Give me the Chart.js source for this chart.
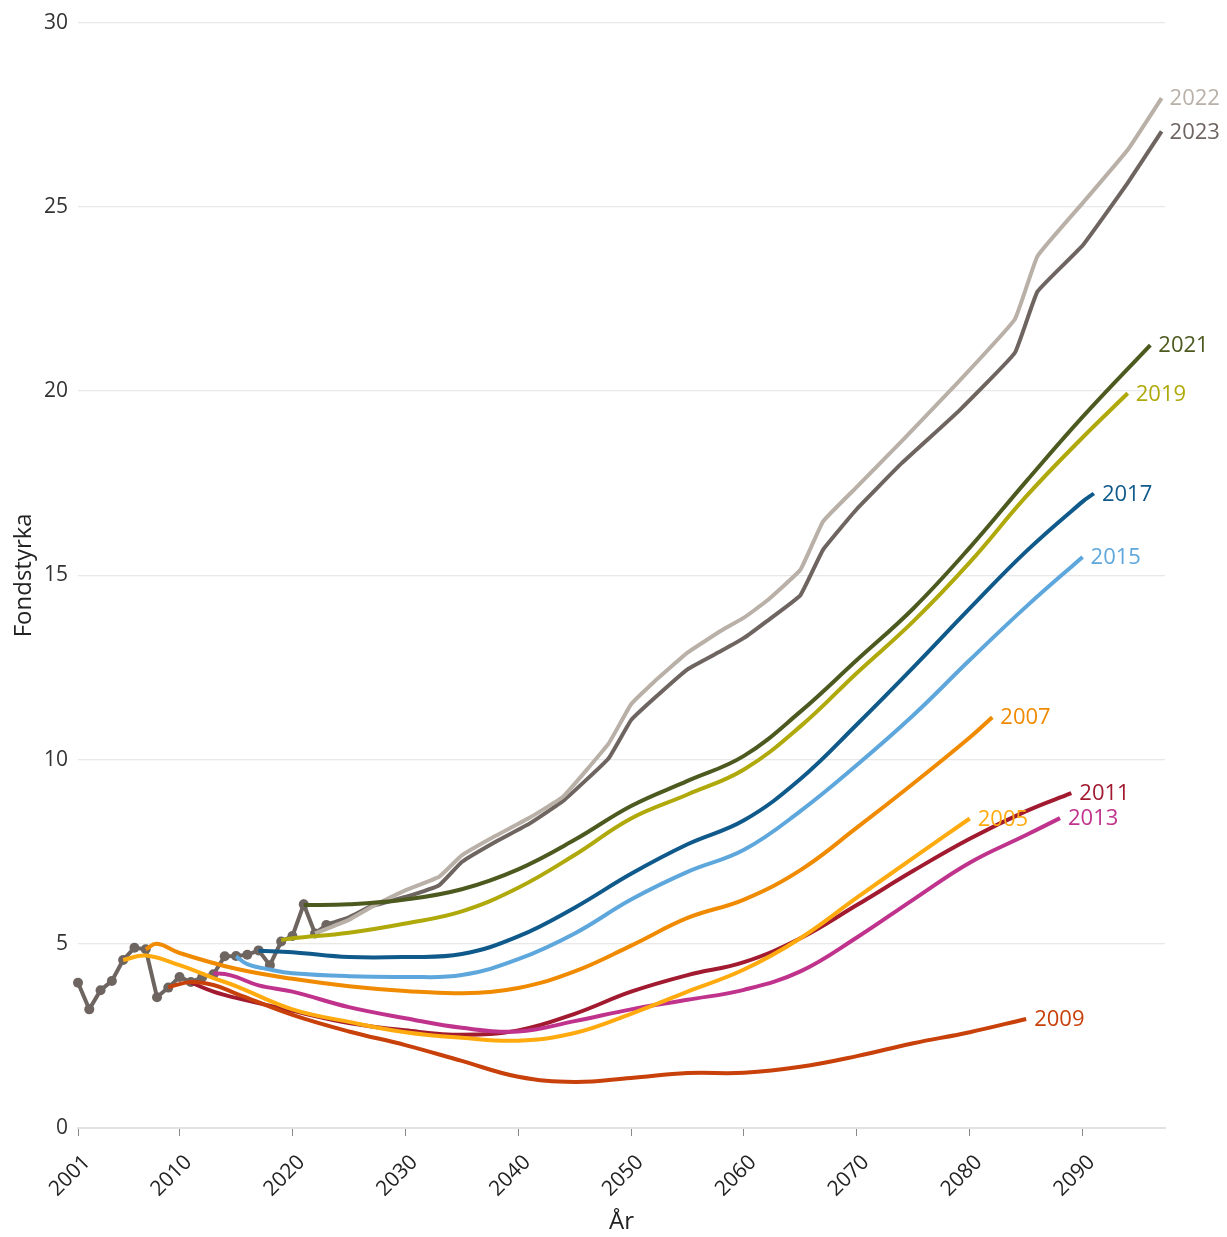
<!DOCTYPE html>
<html>
<head>
<meta charset="utf-8">
<script src="https://cdn.jsdelivr.net/npm/chart.js@4/dist/chart.umd.min.js"></script>
<style>
  html, body { margin: 0; padding: 0; background: #fff; }
  #wrap { width: 1227px; height: 1237px; }
</style>
</head>
<body>
<div id="wrap"><canvas id="myChart"></canvas></div>
<script>
// x axis ticks
const xTicks = [2001, 2010, 2020, 2030, 2040, 2050, 2060, 2070, 2080, 2090];

// outcome (utfall)
const outYears = [2001, 2002, 2003, 2004, 2005, 2006, 2007, 2008, 2009, 2010, 2011, 2012,
                  2013, 2014, 2015, 2016, 2017, 2018, 2019, 2020, 2021, 2022, 2023];
const outVals = [3.94, 3.22, 3.74, 3.99, 4.56, 4.89, 4.85, 3.55, 3.81, 4.10, 3.96, 4.09,
                 4.17, 4.66, 4.67, 4.70, 4.82, 4.42, 5.06, 5.21, 6.07, 5.28, 5.51];

// projections, one per report year
const years2005 = [2005, 2007, 2010, 2013, 2015, 2020, 2025, 2030, 2035, 2040, 2045, 2050, 2055, 2060, 2065, 2070, 2075, 2080];
const vals2005 = [4.56, 4.68, 4.42, 4.07, 3.85, 3.22, 2.88, 2.6, 2.45, 2.37, 2.58, 3.1, 3.7, 4.3, 5.15, 6.25, 7.33, 8.4];

const years2007 = [2007, 2008, 2010, 2015, 2020, 2025, 2030, 2035, 2040, 2045, 2050, 2055, 2060, 2065, 2070, 2075, 2080, 2082];
const vals2007 = [4.85, 5.0, 4.75, 4.32, 4.05, 3.85, 3.72, 3.66, 3.8, 4.25, 4.95, 5.7, 6.2, 7.0, 8.15, 9.35, 10.6, 11.15];

const years2009 = [2009, 2011, 2013, 2015, 2020, 2025, 2030, 2035, 2040, 2045, 2050, 2055, 2060, 2065, 2070, 2075, 2080, 2085];
const vals2009 = [3.82, 3.96, 3.88, 3.65, 3.07, 2.62, 2.25, 1.82, 1.39, 1.25, 1.36, 1.49, 1.5, 1.66, 1.95, 2.3, 2.6, 2.96];

const years2011 = [2011, 2013, 2015, 2020, 2025, 2030, 2035, 2040, 2045, 2050, 2055, 2060, 2065, 2070, 2075, 2080, 2085, 2089];
const vals2011 = [3.95, 3.7, 3.53, 3.18, 2.85, 2.65, 2.53, 2.65, 3.1, 3.7, 4.15, 4.5, 5.15, 6.05, 6.98, 7.85, 8.6, 9.09];

const years2013 = [2013, 2014, 2015, 2017, 2020, 2025, 2030, 2035, 2040, 2045, 2050, 2055, 2060, 2065, 2070, 2075, 2080, 2085, 2088];
const vals2013 = [4.2, 4.18, 4.1, 3.87, 3.7, 3.28, 2.98, 2.72, 2.62, 2.9, 3.22, 3.48, 3.75, 4.25, 5.17, 6.2, 7.2, 7.95, 8.41];

const years2015 = [2015, 2016, 2018, 2020, 2025, 2030, 2035, 2040, 2045, 2050, 2055, 2060, 2065, 2070, 2075, 2080, 2085, 2090];
const vals2015 = [4.66, 4.45, 4.3, 4.2, 4.12, 4.1, 4.15, 4.58, 5.28, 6.2, 6.95, 7.55, 8.6, 9.85, 11.2, 12.7, 14.15, 15.5];

const years2017 = [2017, 2020, 2025, 2030, 2035, 2040, 2045, 2050, 2055, 2060, 2065, 2070, 2075, 2080, 2085, 2090, 2091];
const vals2017 = [4.81, 4.77, 4.64, 4.64, 4.72, 5.2, 5.98, 6.9, 7.7, 8.35, 9.47, 10.95, 12.5, 14.1, 15.65, 17.0, 17.22];

const years2019 = [2019, 2020, 2025, 2030, 2035, 2040, 2045, 2050, 2055, 2060, 2065, 2070, 2075, 2080, 2085, 2090, 2094];
const vals2019 = [5.1, 5.15, 5.3, 5.55, 5.88, 6.52, 7.41, 8.4, 9.05, 9.73, 10.9, 12.35, 13.75, 15.35, 17.14, 18.74, 19.94];

const years2021 = [2021, 2025, 2030, 2035, 2040, 2045, 2050, 2055, 2060, 2065, 2070, 2075, 2080, 2085, 2090, 2096];
const vals2021 = [6.05, 6.07, 6.2, 6.48, 7.02, 7.82, 8.74, 9.42, 10.1, 11.3, 12.7, 14.1, 15.75, 17.55, 19.3, 21.25];

const years2022 = [2022, 2025, 2027, 2030, 2033, 2035, 2038, 2041, 2044, 2048, 2050, 2052, 2055, 2058, 2060, 2062,
                   2065, 2067, 2070, 2074, 2079, 2084, 2086, 2090, 2094, 2097];
const vals2022 = [5.28, 5.65, 6.0, 6.45, 6.82, 7.4, 7.93, 8.42, 9.0, 10.43, 11.5, 12.1, 12.9, 13.5, 13.85, 14.3,
                  15.15, 16.46, 17.4, 18.65, 20.25, 21.95, 23.66, 25.1, 26.55, 27.95];

const years2023 = [2023, 2025, 2027, 2030, 2033, 2035, 2038, 2041, 2044, 2048, 2050, 2052, 2055, 2058, 2060, 2062,
                   2065, 2067, 2070, 2074, 2079, 2084, 2086, 2090, 2094, 2097];
const vals2023 = [5.52, 5.72, 6.02, 6.27, 6.59, 7.22, 7.77, 8.26, 8.88, 10.03, 11.07, 11.65, 12.45, 12.95, 13.3, 13.75,
                  14.46, 15.69, 16.8, 18.05, 19.45, 21.04, 22.7, 23.95, 25.65, 27.05];

const toPoints = (xs, ys) => xs.map((x, i) => ({ x: x, y: ys[i] }));

const projLine = (label, xs, ys, color, smooth) => ({
    label: label,
    endLabel: label,
    data: toPoints(xs, ys),
    borderColor: color,
    backgroundColor: color,
    borderWidth: 4,
    pointRadius: 0,
    fill: false,
    tension: smooth ? 0.4 : 0.1,
    clip: false,
});

// draws the year next to the end of each projection
const endLabels = {
    id: 'endLabels',
    afterDatasetsDraw(chart) {
        const ctx = chart.ctx;
        chart.data.datasets.forEach((ds, i) => {
            if (!ds.endLabel) return;
            const meta = chart.getDatasetMeta(i);
            const pt = meta.data[meta.data.length - 1];
            ctx.save();
            ctx.font = '22px "Open Sans"';
            ctx.fillStyle = ds.borderColor;
            ctx.textBaseline = 'middle';
            ctx.textAlign = 'left';
            ctx.fillText(ds.endLabel, pt.x + 8, pt.y + 1);
            ctx.restore();
        });
    }
};

const ctx = document.getElementById('myChart');
const myChart = new Chart(ctx, {
    type: 'line',
    data: {
        datasets: [
            projLine('2009', years2009, vals2009, '#c8400a', true),
            projLine('2005', years2005, vals2005, '#ffab0f', true),
            projLine('2013', years2013, vals2013, '#c0338d', true),
            projLine('2011', years2011, vals2011, '#a11a30', true),
            projLine('2007', years2007, vals2007, '#f08a00', true),
            projLine('2015', years2015, vals2015, '#5ea7dd', true),
            projLine('2017', years2017, vals2017, '#0f5a8b', true),
            projLine('2019', years2019, vals2019, '#b0a90b', true),
            projLine('2021', years2021, vals2021, '#4c5a1f', true),
            projLine('2022', years2022, vals2022, '#b9b0a8', false),
            projLine('2023', years2023, vals2023, '#6e6561', false),
            {
                label: 'Utfall',
                data: toPoints(outYears, outVals),
                borderColor: '#6e6561',
                backgroundColor: '#6e6561',
                borderWidth: 4,
                pointRadius: 5,
                pointHoverRadius: 5,
                pointBorderWidth: 0,
                tension: 0,
                fill: false,
                clip: false,
            },
        ]
    },
    options: {
        responsive: true,
        maintainAspectRatio: false,
        animation: false,
        layout: { padding: { top: 22, right: 62, left: 0, bottom: 0 } },
        plugins: {
            legend: { display: false },
            tooltip: { enabled: false },
        },
        scales: {
            x: {
                type: 'linear',
                min: 2001,
                max: 2097.3,
                afterBuildTicks: (axis) => {
                    axis.ticks = xTicks.map(v => ({ value: v }));
                },
                afterFit: (axis) => { axis.height = 109; },
                ticks: {
                    autoSkip: false,
                    minRotation: 45,
                    maxRotation: 45,
                    padding: 14,
                    labelOffset: 9,
                    color: '#222',
                    font: { family: 'Open Sans', size: 21 },
                    callback: (v) => String(v),
                },
                grid: {
                    drawOnChartArea: false,
                    drawTicks: true,
                    tickLength: 8,
                    tickColor: '#888',
                },
                border: { display: true, color: '#e2e2e2', width: 2 },
                title: {
                    display: true,
                    text: 'År',
                    color: '#222',
                    font: { family: 'Open Sans', size: 24 },
                    padding: { top: 0, bottom: 0 },
                },
            },
            y: {
                min: 0,
                max: 30,
                afterFit: (axis) => { axis.width = 78; },
                ticks: {
                    stepSize: 5,
                    padding: 10,
                    color: '#333',
                    font: { family: 'Open Sans', size: 21 },
                },
                grid: { color: '#e8e8e8', lineWidth: 1.2, drawTicks: false },
                border: { display: false },
                title: {
                    display: true,
                    text: 'Fondstyrka',
                    color: '#222',
                    font: { family: 'Open Sans', size: 24 },
                    padding: { top: 10, bottom: 0 },
                },
            },
        },
    },
    plugins: [endLabels],
});
</script>
</body>
</html>
